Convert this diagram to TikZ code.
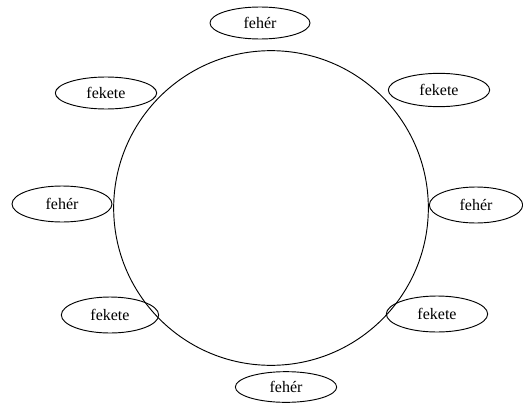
\documentclass[tikz,border=0pt]{standalone}
\usepackage{fontspec}
\setmainfont{Liberation Serif}
\usetikzlibrary{shapes.geometric}
\begin{document}
\begin{tikzpicture}[x=0.75pt,y=-0.75pt,
  lbl/.style={draw, ellipse, inner sep=0pt, line width=0.7pt, font=\fontsize{12}{14}\selectfont},
  ring/.style={draw, circle, inner sep=0pt, line width=0.7pt}]
\useasboundingbox (0,0) rectangle (523,403);
\node[ring, minimum size=236pt] (c) at (271,208) {};
\node[lbl, minimum width=75pt, minimum height=24pt] (t) at (260,23) {fehér};
\node[lbl, minimum width=76pt, minimum height=24pt] (tl) at (106,93) {fekete};
\node[lbl, minimum width=76pt, minimum height=25pt] (tr) at (439,90) {fekete};
\node[lbl, minimum width=75pt, minimum height=27pt] (l) at (62,204) {fehér};
\node[lbl, minimum width=70pt, minimum height=27pt] (r) at (476,205) {fehér};
\node[lbl, minimum width=76pt, minimum height=23pt] (b) at (286,387) {fehér};
\node[lbl, minimum width=73pt, minimum height=27pt] (bl) at (110,315) {fekete};
\node[lbl, minimum width=76pt, minimum height=27pt] (br) at (437,314) {fekete};
\end{tikzpicture}
\end{document}
